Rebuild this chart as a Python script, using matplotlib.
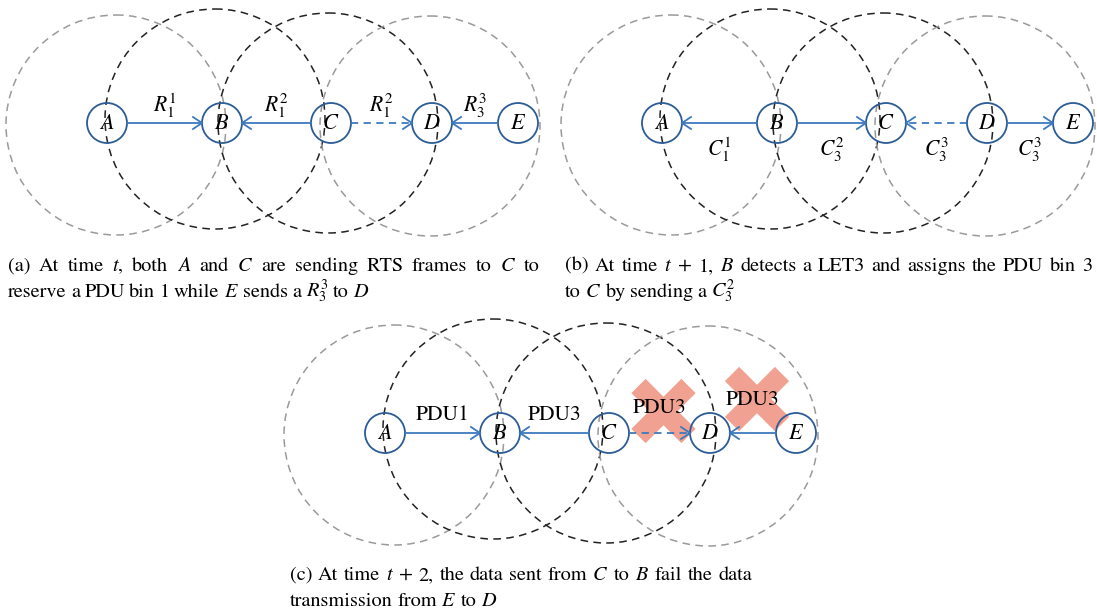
import numpy as np
import matplotlib
matplotlib.use("Agg")
import matplotlib.pyplot as plt
from matplotlib.patches import Circle

plt.rcParams["font.family"] = "STIXGeneral"
plt.rcParams["mathtext.fontset"] = "stix"

# ---- diagram content ----
node_names = ["A", "B", "C", "D", "E"]

# (source, target, line style, label)
edges_a = [("A", "B", "solid", r"$R_1^1$"),
           ("C", "B", "solid", r"$R_1^2$"),
           ("C", "D", "dashed", r"$R_1^2$"),
           ("E", "D", "solid", r"$R_3^3$")]
edges_b = [("B", "A", "solid", r"$C_1^1$"),
           ("B", "C", "solid", r"$C_3^2$"),
           ("D", "C", "dashed", r"$C_3^3$"),
           ("D", "E", "solid", r"$C_3^3$")]
edges_c = [("A", "B", "solid", "PDU1"),
           ("C", "B", "solid", "PDU3"),
           ("C", "D", "dashed", "PDU3"),
           ("E", "D", "solid", "PDU3")]
failed_c = [False, False, True, True]

caption_a = [["(a)", "At", "time", "$t$,", "both", "$A$", "and", "$C$", "are", "sending",
              "RTS", "frames", "to", "$C$", "to"],
             ["reserve", "a", "PDU", "bin", "1", "while", "$E$", "sends", "a", "$R_3^3$", "to", "$D$"]]
caption_b = [["(b)", "At", "time", "$t$", "+", "1,", "$B$", "detects", "a", "LET3", "and",
              "assigns", "the", "PDU", "bin", "3"],
             ["to", "$C$", "by", "sending", "a", "$C_3^2$"]]
caption_c = [["(c)", "At", "time", "$t$", "+", "2,", "the", "data", "sent", "from", "$C$", "to",
              "$B$", "fail", "the", "data"],
             ["transmission", "from", "$E$", "to", "$D$"]]

# ---- layout (pixels) ----
panel_origin = {"a": (107, 123), "b": (662, 123), "c": (385, 433)}
node_dx = [0, 115, 224, 325, 411]
node_r = 20
range_r = 110
range_dx = [9, -7, -3, -2]       # offsets of range circles from nodes A..D
range_dy = [2, -4, 0, 3]
range_col = ["#9a9a9a", "#222222", "#222222", "#9a9a9a"]

NODE_EDGE = "#2b5c95"
ARROW_COL = "#3d79bd"
CROSS_COL = "#f0a191"

fig = plt.figure(figsize=(10.97, 6.14), dpi=100)
ax = fig.add_axes([0, 0, 1, 1])
ax.set_xlim(0, 1097)
ax.set_ylim(614, 0)
ax.axis("off")


def node_pos(panel, name):
    x0, y0 = panel_origin[panel]
    return x0 + node_dx[node_names.index(name)], y0


def draw_panel(panel, edges, label_dy, failed=None):
    x0, y0 = panel_origin[panel]
    for i in range(4):
        cx = x0 + node_dx[i] + range_dx[i]
        ax.add_patch(Circle((cx, y0 + range_dy[i]), range_r, fill=False,
                            ec=range_col[i], lw=1.1, ls=(0, (5, 3.5)), zorder=2))
    for name in node_names:
        x, y = node_pos(panel, name)
        ax.add_patch(Circle((x, y), node_r, fill=False, ec=NODE_EDGE, lw=1.3, zorder=3))
        ax.text(x, y + 1, "$%s$" % name, ha="center", va="center", fontsize=16, zorder=4)
    for k, (src, dst, style, lab) in enumerate(edges):
        xs, y = node_pos(panel, src)
        xd, _ = node_pos(panel, dst)
        d = np.sign(xd - xs)
        a, b = xs + d * node_r, xd - d * node_r
        ls = "-" if style == "solid" else (0, (4, 3))
        ax.plot([a, b], [y, y], color=ARROW_COL, lw=1.3, ls=ls, zorder=3)
        ax.plot([b - d * 9, b, b - d * 9], [y - 6, y, y + 6], color=ARROW_COL,
                lw=1.3, zorder=3, solid_joinstyle="miter")
        mx = (a + b) / 2
        ly = y + label_dy[k]
        if failed is not None and failed[k]:
            h = 25
            cx, cy = mx + 4, y + (-22 if k == 2 else -34)
            for sgn in (1, -1):
                ax.plot([cx - h, cx + h], [cy - sgn * h, cy + sgn * h], color=CROSS_COL,
                        lw=14.5, solid_capstyle="butt", zorder=1)
        ax.text(mx, ly, lab, ha="center", va="center", fontsize=15.5, zorder=5)


draw_panel("a", edges_a, [-17, -17, -17, -17])
draw_panel("b", edges_b, [27, 27, 27, 27])
draw_panel("c", edges_c, [-18, -18, -25, -33], failed_c)


def put_line(words, x0, y, x1=None, size=14.6):
    texts = [ax.text(x0, y, w, fontsize=size, ha="left", va="baseline") for w in words]
    fig.canvas.draw()
    r = fig.canvas.get_renderer()
    widths = [t.get_window_extent(r).width for t in texts]
    gap = size * 0.3 if x1 is None else (x1 - x0 - sum(widths)) / (len(words) - 1)
    x = x0
    for t, w in zip(texts, widths):
        t.set_x(x)
        x += w + gap


put_line(caption_a[0], 8, 271, 540)
put_line(caption_a[1], 8, 297)
put_line(caption_b[0], 565, 271, 1092)
put_line(caption_b[1], 565, 297)
put_line(caption_c[0], 290, 580, 752)
put_line(caption_c[1], 290, 606)

fig.savefig("out.png", dpi=100)
